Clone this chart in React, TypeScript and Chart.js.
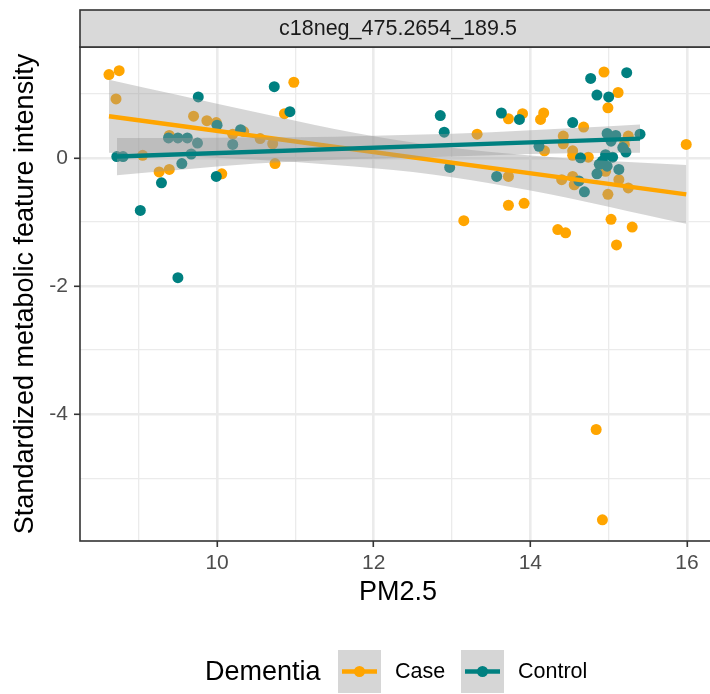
import React, { useEffect, useRef } from "react";
import { Chart, registerables } from "chart.js";

Chart.register(...registerables);

const FONT = '"Liberation Sans", Arial, Helvetica, sans-serif';
const CASE_COLOR = "#FFA500";
const CONTROL_COLOR = "#008080";
const RIBBON = "rgba(153,153,153,0.4)";

const stripLabel = "c18neg_475.2654_189.5";
const xTitle = "PM2.5";
const yTitle = "Standardized metabolic feature intensity";
const legendTitle = "Dementia";
const groupNames = ["Case", "Control"];

// Case (orange) points
const caseX = [8.62, 8.75, 8.71, 9.05, 9.26, 9.39, 9.39, 9.70, 9.87, 9.99, 10.06, 10.20, 10.34, 10.55, 10.71, 10.74, 10.86, 10.98,
  13.15, 13.32, 13.72, 13.72, 13.72, 13.90, 13.92, 14.13, 14.17, 14.18, 14.35, 14.40, 14.42, 14.42, 14.45, 14.54, 14.54, 14.54,
  14.56, 14.68, 14.74, 14.84, 14.92, 14.94, 14.96, 14.99, 14.99, 15.03, 15.10, 15.12, 15.13, 15.20, 15.25, 15.25, 15.30, 15.99];
const caseY = [1.30, 1.36, 0.92, 0.04, -0.22, -0.18, 0.35, 0.65, 0.58, 0.55, -0.25, 0.37, 0.41, 0.30, 0.22, -0.09, 0.69, 1.18,
  -0.98, 0.37, 0.61, -0.29, -0.74, 0.69, -0.71, 0.60, 0.70, 0.11, -1.12, -0.34, 0.34, 0.22, -1.17, 0.11, 0.04, -0.29,
  -0.42, 0.48, 0.01, -4.24, -5.65, 1.34, -0.21, 0.78, -0.57, -0.96, -1.36, 1.02, -0.34, 0.21, 0.34, -0.47, -1.08, 0.21];

// Control (teal) points
const controlX = [8.72, 8.80, 9.02, 9.29, 9.38, 9.50, 9.50, 9.55, 9.62, 9.67, 9.75, 9.76, 9.99, 10.00, 10.20, 10.30, 10.73, 10.93,
  12.85, 12.90, 12.97, 13.57, 13.63, 13.86, 14.11, 14.54, 14.62, 14.64, 14.69, 14.77, 14.85, 14.85, 14.88, 14.92, 14.96, 14.98,
  14.98, 15.00, 15.03, 15.05, 15.09, 15.13, 15.18, 15.22, 15.23, 15.40];
const controlY = [0.02, 0.02, -0.82, -0.39, 0.31, 0.31, -1.87, -0.09, 0.31, 0.06, 0.23, 0.95, -0.29, 0.51, 0.21, 0.44, 1.11, 0.72,
  0.66, 0.40, -0.15, -0.29, 0.70, 0.60, 0.18, 0.55, -0.36, 0.00, -0.53, 1.24, 0.98, -0.25, -0.10, -0.05, 0.05, 0.38,
  -0.13, 0.95, 0.26, 0.01, 0.35, -0.18, 0.16, 0.09, 1.33, 0.37];

// Fitted lines
const caseFitX = [8.62, 15.99];
const caseFitY = [0.65, -0.57];
const controlFitX = [8.72, 15.40];
const controlFitY = [0.02, 0.30];

// Confidence bands
const caseBandX = [8.62, 9.5, 10.5, 11.5, 12.5, 13.5, 14.5, 15.5, 15.99];
const caseBandHigh = [1.22, 0.98, 0.71, 0.45, 0.24, 0.09, -0.01, -0.08, -0.11];
const caseBandLow = [0.08, 0.03, -0.03, -0.11, -0.22, -0.40, -0.63, -0.90, -1.03];
const controlBandX = [8.72, 9.5, 10.5, 11.5, 12.5, 13.5, 14.5, 15.40];
const controlBandHigh = [0.31, 0.31, 0.32, 0.33, 0.36, 0.40, 0.46, 0.52];
const controlBandLow = [-0.27, -0.19, -0.09, -0.03, 0.00, 0.04, 0.07, 0.08];

const xTicks = [9, 10, 11, 12, 13, 14, 15, 16];
const xLabels = [10, 12, 14, 16];
const yTicks = [-5, -4, -3, -2, -1, 0, 1];
const yLabels = [0, -2, -4];

const zip = (xs: number[], ys: number[]) => xs.map((x, i) => ({ x, y: ys[i] }));

const decorPlugin = {
  id: "decor",
  afterDatasetsDraw(chart: any) {
    const { ctx, chartArea: a } = chart;
    ctx.save();
    ctx.strokeStyle = "#333333";
    ctx.lineWidth = 1.6;
    ctx.strokeRect(a.left, a.top, a.right - a.left, a.bottom - a.top);
    ctx.restore();
  },
  afterDraw(chart: any) {
    const { ctx, chartArea: a } = chart;
    ctx.save();
    // strip
    const stripTop = 10;
    ctx.fillStyle = "#D9D9D9";
    ctx.fillRect(a.left, stripTop, a.right - a.left, a.top - stripTop);
    ctx.strokeStyle = "#333333";
    ctx.lineWidth = 1.6;
    ctx.strokeRect(a.left, stripTop, a.right - a.left, a.top - stripTop);
    ctx.fillStyle = "#1A1A1A";
    ctx.font = `21.5px ${FONT}`;
    ctx.textAlign = "center";
    ctx.textBaseline = "middle";
    ctx.fillText(stripLabel, (a.left + a.right) / 2, (stripTop + a.top) / 2 + 1);

    // axis titles
    ctx.fillStyle = "#000000";
    ctx.font = `27px ${FONT}`;
    ctx.fillText(xTitle, (a.left + a.right) / 2, 593);
    ctx.save();
    ctx.translate(26, (a.top + a.bottom) / 2);
    ctx.rotate(-Math.PI / 2);
    ctx.fillText(yTitle, 0, 0);
    ctx.restore();

    // legend
    const ly = 671.5;
    ctx.textAlign = "left";
    ctx.font = `27px ${FONT}`;
    ctx.fillText(legendTitle, 205, ly + 1);
    const keys = [
      { x: 338, color: CASE_COLOR, label: groupNames[0], tx: 395 },
      { x: 461, color: CONTROL_COLOR, label: groupNames[1], tx: 518 },
    ];
    for (const k of keys) {
      ctx.fillStyle = RIBBON;
      ctx.fillRect(k.x, ly - 21.5, 43, 43);
      ctx.strokeStyle = k.color;
      ctx.lineWidth = 4.5;
      ctx.beginPath();
      ctx.moveTo(k.x + 4, ly);
      ctx.lineTo(k.x + 39, ly);
      ctx.stroke();
      ctx.fillStyle = k.color;
      ctx.beginPath();
      ctx.arc(k.x + 21.5, ly, 5.5, 0, Math.PI * 2);
      ctx.fill();
      ctx.fillStyle = "#000000";
      ctx.font = `21.5px ${FONT}`;
      ctx.fillText(k.label, k.tx, ly + 1);
    }
    ctx.restore();
  },
};

export default function App() {
  const ref = useRef<HTMLCanvasElement | null>(null);

  useEffect(() => {
    if (!ref.current) return;
    const lineBase = { pointRadius: 0, pointHoverRadius: 0, tension: 0, showLine: true };
    const bandBase = {
      ...lineBase,
      borderWidth: 0,
      borderColor: "rgba(0,0,0,0)",
      backgroundColor: RIBBON,
      cubicInterpolationMode: "monotone" as const,
    };
    const chart = new Chart(ref.current, {
      type: "line",
      data: {
        datasets: [
          {
            label: "Case points",
            data: zip(caseX, caseY),
            showLine: false,
            pointRadius: 5.5,
            pointBorderWidth: 0,
            pointBackgroundColor: CASE_COLOR,
            borderColor: CASE_COLOR,
            order: 10,
          },
          {
            label: "Control points",
            data: zip(controlX, controlY),
            showLine: false,
            pointRadius: 5.5,
            pointBorderWidth: 0,
            pointBackgroundColor: CONTROL_COLOR,
            borderColor: CONTROL_COLOR,
            order: 9,
          },
          { label: "Case low", data: zip(caseBandX, caseBandLow), ...bandBase, fill: false, order: 8 },
          { label: "Case high", data: zip(caseBandX, caseBandHigh), ...bandBase, fill: "-1", order: 7 },
          {
            label: "Case fit",
            data: zip(caseFitX, caseFitY),
            ...lineBase,
            borderColor: CASE_COLOR,
            borderWidth: 4.5,
            fill: false,
            order: 6,
          },
          { label: "Control low", data: zip(controlBandX, controlBandLow), ...bandBase, fill: false, order: 5 },
          { label: "Control high", data: zip(controlBandX, controlBandHigh), ...bandBase, fill: "-1", order: 4 },
          {
            label: "Control fit",
            data: zip(controlFitX, controlFitY),
            ...lineBase,
            borderColor: CONTROL_COLOR,
            borderWidth: 4.5,
            fill: false,
            order: 3,
          },
        ],
      },
      options: {
        responsive: false,
        animation: false,
        events: [],
        layout: { padding: { left: 0, right: 14, top: 47, bottom: 113 } },
        plugins: {
          legend: { display: false },
          tooltip: { enabled: false },
          title: { display: false },
        },
        scales: {
          x: {
            type: "linear",
            min: 8.25,
            max: 16.37,
            afterBuildTicks: (scale: any) => {
              scale.ticks = xTicks.map((v) => ({ value: v }));
            },
            afterFit: (scale: any) => {
              scale.height = 40;
            },
            border: { display: false },
            grid: {
              color: "#EBEBEB",
              lineWidth: (c: any) => (xLabels.includes(c.tick?.value) ? 2.6 : 1.3),
              drawTicks: true,
              tickLength: 6,
              tickWidth: 1.6,
              tickColor: (c: any) => (xLabels.includes(c.tick?.value) ? "#333333" : "rgba(0,0,0,0)"),
            },
            ticks: {
              autoSkip: false,
              maxRotation: 0,
              padding: 4,
              color: "#4D4D4D",
              font: { family: FONT, size: 21 },
              callback: (v: any) => (xLabels.includes(Number(v)) ? String(v) : ""),
            },
          },
          y: {
            type: "linear",
            min: -5.98,
            max: 1.73,
            afterBuildTicks: (scale: any) => {
              scale.ticks = yTicks.map((v) => ({ value: v }));
            },
            afterFit: (scale: any) => {
              scale.width = 80;
            },
            border: { display: false },
            grid: {
              color: "#EBEBEB",
              lineWidth: (c: any) => (yLabels.includes(c.tick?.value) ? 2.6 : 1.3),
              drawTicks: true,
              tickLength: 6,
              tickWidth: 1.6,
              tickColor: (c: any) => (yLabels.includes(c.tick?.value) ? "#333333" : "rgba(0,0,0,0)"),
            },
            ticks: {
              autoSkip: false,
              padding: 6,
              color: "#4D4D4D",
              font: { family: FONT, size: 21 },
              callback: (v: any) => (yLabels.includes(Number(v)) ? String(v) : ""),
            },
          },
        },
      },
      plugins: [decorPlugin],
    });
    return () => chart.destroy();
  }, []);

  return (
    <div
      style={{
        position: "absolute",
        left: 0,
        top: 0,
        width: 710,
        height: 694,
        overflow: "hidden",
        background: "#FFFFFF",
      }}
    >
      <canvas ref={ref} width={730} height={694} style={{ display: "block" }} />
    </div>
  );
}
